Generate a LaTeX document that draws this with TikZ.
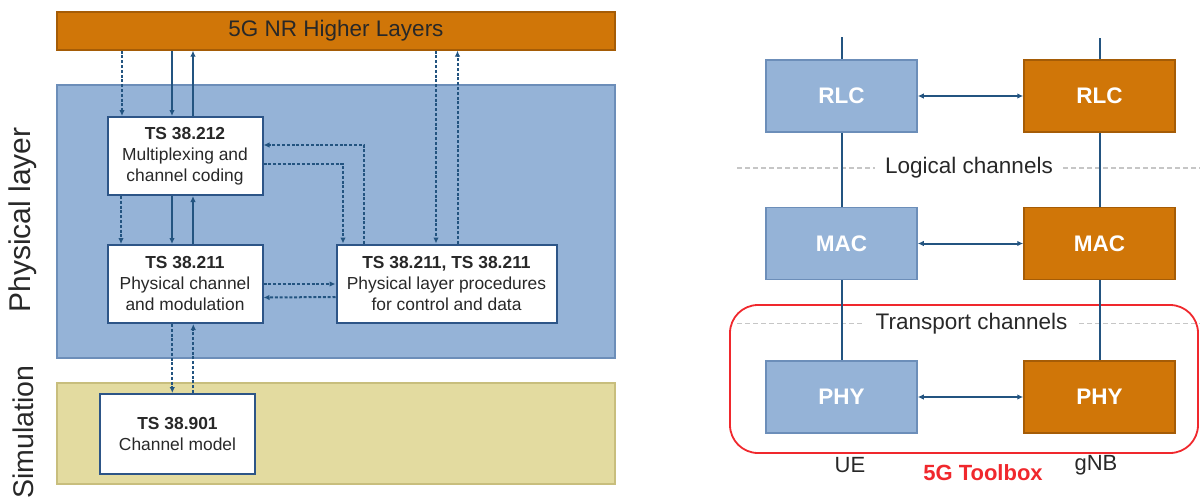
\documentclass[tikz,border=0pt]{standalone}
\usepackage{fontspec}
\setmainfont{Liberation Sans}
\usetikzlibrary{arrows.meta}

\definecolor{nrorange}{RGB}{208,118,8}
\definecolor{nrorangedark}{RGB}{165,92,6}
\definecolor{phyblue}{RGB}{149,179,215}
\definecolor{phybluedark}{RGB}{108,142,185}
\definecolor{simyellow}{RGB}{227,219,160}
\definecolor{simyellowdark}{RGB}{200,190,125}
\definecolor{linkblue}{RGB}{35,84,128}
\definecolor{boxedge}{RGB}{45,85,135}
\definecolor{textgray}{RGB}{40,40,40}
\definecolor{toolred}{RGB}{240,40,45}

\begin{document}
\begin{tikzpicture}[
    x=1pt, y=-1pt,
    region/.style={draw, line width=1.2pt, minimum width=558pt},
    spec box/.style={draw=boxedge, fill=white, line width=2pt, align=center,
        text=textgray, font=\fontsize{17.4}{21}\selectfont,
        minimum width=155pt, minimum height=78pt},
    proto box/.style={draw, line width=1.5pt, text=white,
        font=\bfseries\fontsize{22.5}{27}\selectfont,
        minimum width=151pt, minimum height=72pt},
    ue box/.style={proto box, fill=phyblue, draw=phybluedark},
    gnb box/.style={proto box, fill=nrorange, draw=nrorangedark},
    big label/.style={text=textgray, font=\fontsize{22.5}{27}\selectfont},
    side label/.style={rotate=90, text=textgray, font=\fontsize{30}{36}\selectfont},
    link/.style={draw=linkblue, line width=2pt},
    solid link/.style={link, -{Latex[length=6pt,width=5.5pt]}},
    dash link/.style={solid link, dash pattern=on 3pt off 1.8pt},
    both link/.style={link, {Latex[length=6pt,width=5.5pt]}-{Latex[length=6pt,width=5.5pt]}},
    sep line/.style={draw=gray!45, line width=1.2pt, dash pattern=on 5pt off 3pt}
]
    \useasboundingbox (0,0) rectangle (1200,501);

    % left: 3GPP spec stack
    \node[region, fill=nrorange, draw=nrorangedark, minimum height=38pt, big label] (hl) at (336,31) {5G NR Higher Layers};
    \node[region, fill=phyblue, draw=phybluedark, minimum height=273pt] (phy) at (336,221.5) {};
    \node[region, fill=simyellow, draw=simyellowdark, minimum height=101pt] (sim) at (336,433.5) {};

    \node[side label] (phylbl) at (23,220) {Physical layer};
    \node[side label, font=\fontsize{28.5}{34}\selectfont] (simlbl) at (23,432) {Simulation};

    \node[spec box] (cc) at (185,156) {\textbf{TS 38.212}\\Multiplexing and\\channel coding};
    \node[spec box] (ch) at (185,284) {\textbf{TS 38.211}\\Physical channel\\and modulation};
    \node[spec box, minimum width=220pt] (pr) at (446.5,283.5) {\textbf{TS 38.211, TS 38.211}\\Physical layer procedures\\for control and data};
    \node[spec box, minimum height=80pt] (cm) at (177.5,434) {\textbf{TS 38.901}\\Channel model};

    \draw[dash link] ([xshift=-63]cc.north |- hl.south) -- ([xshift=-63]cc.north);
    \draw[solid link] ([xshift=-13]cc.north |- hl.south) -- ([xshift=-13]cc.north);
    \draw[solid link] ([xshift=8]cc.north) -- ([xshift=8]cc.north |- hl.south);

    \draw[dash link] ([xshift=-64]cc.south) -- ([xshift=-64]cc.south |- ch.north);
    \draw[solid link] ([xshift=-13]cc.south) -- ([xshift=-13]cc.south |- ch.north);
    \draw[solid link] ([xshift=8]ch.north) -- ([xshift=8]ch.north |- cc.south);

    \draw[dash link] ([xshift=-10.5]pr.north |- hl.south) -- ([xshift=-10.5]pr.north);
    \draw[dash link] ([xshift=11]pr.north) -- ([xshift=11]pr.north |- hl.south);

    \draw[dash link] ([xshift=-82.5]pr.north) |- ([yshift=11]cc.east);
    \draw[dash link] ([yshift=-8]cc.east) -| ([xshift=-103.5]pr.north);

    \draw[dash link] (ch.east) -- (pr.west |- ch.east);
    \draw[dash link] ([yshift=-13.5]pr.west) -- ([yshift=-13.5]ch.east);

    \draw[dash link] ([xshift=-12.7]ch.south) -- ([xshift=-12.7]ch.south |- cm.north);
    \draw[dash link] ([xshift=8.3]ch.south |- cm.north) -- ([xshift=8.3]ch.south);

    % right: UE / gNB protocol stack
    \node[big label, inner xsep=10pt] (logical) at (969,168) {Logical channels};
    \node[big label, inner xsep=11.5pt] (transport) at (971.5,323.3) {Transport channels};
    \draw[sep line] (737,168) -- (logical.west);
    \draw[sep line] (logical.east) -- (1200,168);
    \draw[sep line] (737,323.3) -- (transport.west);
    \draw[sep line] (transport.east) -- (1200,323.3);

    \draw[draw=toolred, line width=1.8pt, rounded corners=28pt] (730,305) rectangle (1198,453);

    \node[ue box] (rlcu) at (841.5,96) {RLC};
    \node[gnb box] (rlcg) at (1099.5,96) {RLC};
    \node[ue box] (macu) at (841.5,243.5) {MAC};
    \node[gnb box] (macg) at (1099.5,243.5) {MAC};
    \node[ue box] (phyu) at (841.5,397) {PHY};
    \node[gnb box] (phyg) at (1099.5,397) {PHY};

    \coordinate (ue top) at (841.5,37);
    \coordinate (gnb top) at (1099.5,38);
    \draw[link] (ue top) -- (rlcu) -- (macu) -- (phyu);
    \draw[link] (gnb top) -- (rlcg) -- (macg) -- (phyg);

    \draw[both link] (rlcu) -- (rlcg);
    \draw[both link] (macu) -- (macg);
    \draw[both link] (phyu) -- (phyg);

    \node[big label, font=\fontsize{22}{26}\selectfont] (ue) at (850,465) {UE};
    \node[big label, font=\fontsize{22}{26}\selectfont] (gnb) at (1096,465) {gNB};
    \node[text=toolred, font=\bfseries\fontsize{22}{26}\selectfont] (toolbox) at (983,473) {5G Toolbox};
\end{tikzpicture}
\end{document}
